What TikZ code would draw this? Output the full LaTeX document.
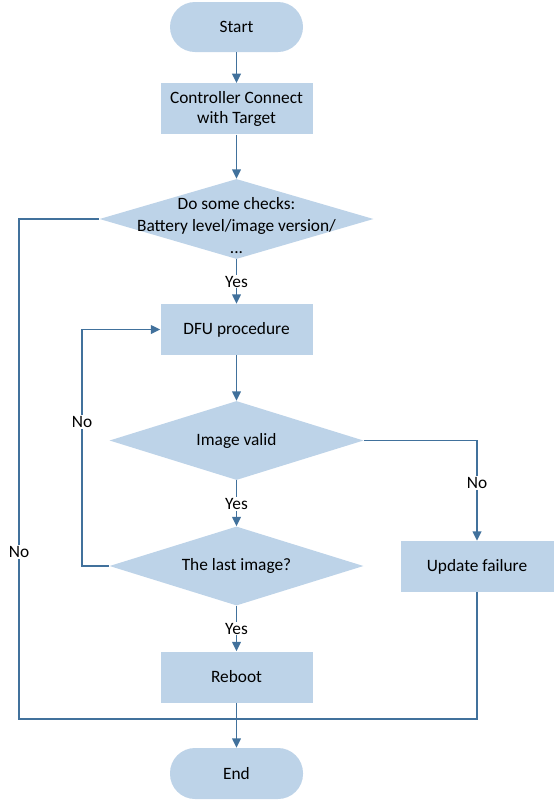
\documentclass[tikz,border=0pt]{standalone}
\usepackage{fontspec}
\setmainfont{Carlito}
\usetikzlibrary{arrows.meta,shapes.geometric}
\definecolor{boxfill}{HTML}{BDD3E8}
\definecolor{linecol}{HTML}{41719C}
\begin{document}
\begin{tikzpicture}[x=0.75pt,y=-0.75pt,
  font=\fontsize{13pt}{15pt}\selectfont,
  procbox/.style={rectangle,fill=boxfill,draw=none,minimum width={152*0.75pt},minimum height={51*0.75pt},align=center,inner sep=0pt},
  termbox/.style={rectangle,fill=boxfill,draw=none,rounded corners={25*0.75pt},minimum width={133*0.75pt},minimum height={50*0.75pt},inner sep=0pt},
  decbox/.style={diamond,fill=boxfill,draw=none,inner sep=0pt},
  conn/.style={draw=linecol,line width=1.1pt},
  arr/.style={conn,-{Triangle[width=6.5pt,length=7pt]}},
  lbl/.style={fill=white,inner sep=1pt,text=black}]
\useasboundingbox (0,0) rectangle (554,800);
\node[termbox] (start) at (236.5,27) {Start};
\node[procbox,yshift=-1pt] (cnt) at (236.5,107.5) {Controller Connect\\with Target};
\node[decbox,minimum width={274*0.75pt},minimum height={80*0.75pt},shape aspect=3.4,
  label={[align=center,yshift=-5pt,font=\fontsize{13pt}{16.5pt}\selectfont]center:Do some checks:\\Battery level/image version/\\...}] (chk) at (236.5,219) {};
\node[procbox] (dfu) at (236.5,329.5) {DFU procedure};
\node[decbox,minimum width={254*0.75pt},minimum height={79*0.75pt},shape aspect=3.2,
  label={center:Image valid}] (valid) at (236.5,440.5) {};
\node[decbox,minimum width={254*0.75pt},minimum height={79*0.75pt},shape aspect=3.2,
  label={center:The last image?}] (last) at (236.5,566) {};
\node[procbox] (reboot) at (236.5,677) {Reboot};
\node[procbox,minimum width={153*0.75pt}] (upd) at (477,566.5) {Update failure};
\node[termbox,minimum height={51*0.75pt}] (end) at (236.5,773.5) {End};
\coordinate (join) at (236.5,719);
\coordinate (lx) at (19,0);
\coordinate (mx) at (82,0);

\draw[arr] (start) -- (cnt);
\draw[arr] (cnt) -- (chk);
\draw[arr] (chk) -- node[lbl]{Yes} (dfu);
\draw[arr] (dfu) -- (valid);
\draw[arr] (valid) -- node[lbl,pos=0.52]{Yes} (last);
\draw[arr] (last) -- node[lbl,pos=0.5]{Yes} (reboot);
\draw[arr] (valid.east) -| node[lbl,pos=0.71]{No} (upd.north);
\draw[arr] (last.west) -- (last.west -| mx) |- node[lbl,pos=0.305]{No} (dfu.west);
\draw[conn] (chk.west) -- (chk.west -| lx) |- node[lbl,pos=0.333]{No} (join);
\draw[conn] (upd.south) |- (join);
\draw[arr] (reboot) -- (end);
\end{tikzpicture}
\end{document}
